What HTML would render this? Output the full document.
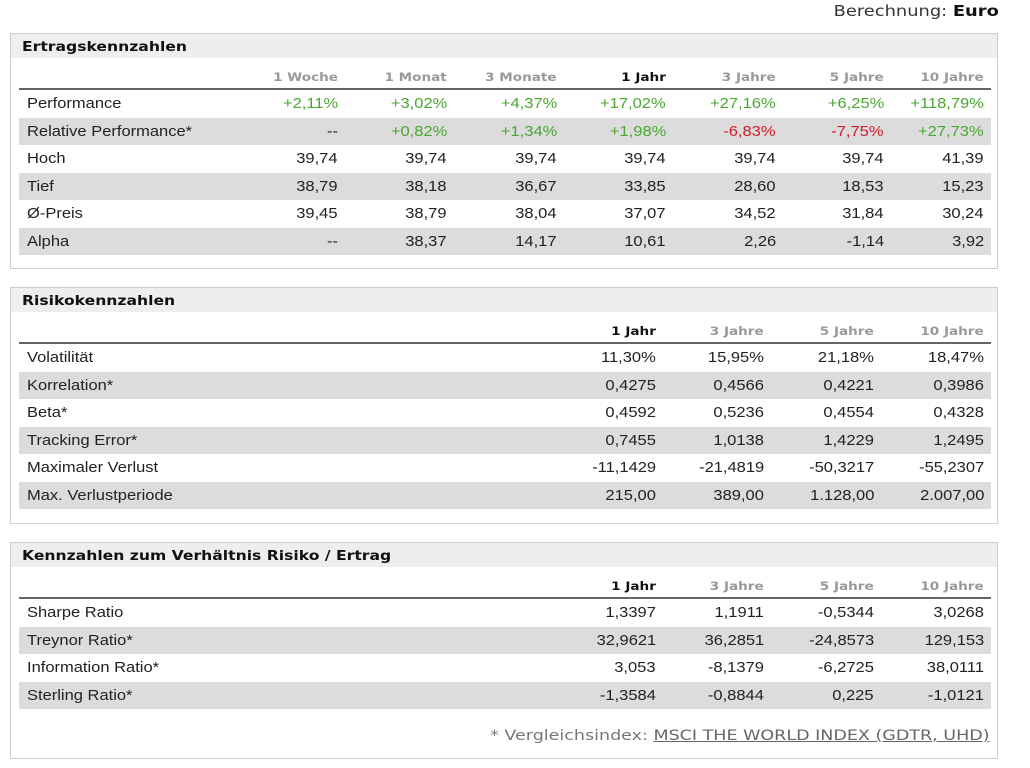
<!DOCTYPE html>
<html><head><meta charset="utf-8">
<style>
body{margin:0;width:1030px;height:768px;background:#fff;position:relative;overflow:hidden;font-family:"Liberation Sans",Arial,sans-serif;}
.calc{position:absolute;right:31px;top:2px;font-family:"DejaVu Sans",sans-serif;font-size:15px;color:#333;transform:scaleX(1.19);transform-origin:right center;}
.calc b{color:#111;}
.panel{position:absolute;left:10px;width:986px;border:1px solid #cfcfcf;background:#fff;}
.ttl{height:24px;background:#eeeeee;line-height:26px;padding-left:11px;}
.ttl span{display:inline-block;font-family:"DejaVu Sans",sans-serif;font-weight:bold;font-size:13px;color:#111;transform:scaleX(1.2);transform-origin:left center;}
.hdr{position:absolute;left:8px;width:972px;height:20px;border-bottom:2px solid #666;}
.hc{position:absolute;top:2px;font-family:"DejaVu Sans",sans-serif;font-weight:bold;font-size:11.5px;color:#999;text-align:right;transform:scaleX(1.18);transform-origin:right center;}
.hc.act{color:#111;}
.row{position:absolute;left:8px;width:972px;height:27.5px;}
.row.g{background:#dcdcdc;}
.lbl{position:absolute;left:8px;top:0;line-height:27.5px;font-size:15px;color:#222;transform:scaleX(1.1);transform-origin:left center;}
.v{position:absolute;top:0;line-height:27.5px;font-size:15px;color:#222;text-align:right;transform:scaleX(1.1);transform-origin:right center;}
.pos{color:#4aa832;}.neg{color:#d0202a;}
.foot{position:absolute;right:7px;font-family:"DejaVu Sans",sans-serif;font-size:14px;color:#777;transform:scaleX(1.25);transform-origin:right center;white-space:nowrap;}
.foot u{color:#666;}
</style></head><body>
<div class="calc">Berechnung: <b>Euro</b></div>

<div class="panel" id="p1" style="top:33px;height:234px;"><div class="ttl"><span>Ertragskennzahlen</span></div></div>
<div class="panel" id="p2" style="top:287px;height:235px;"><div class="ttl"><span>Risikokennzahlen</span></div></div>
<div class="panel" id="p3" style="top:542px;height:215px;"><div class="ttl"><span>Kennzahlen zum Verhältnis Risiko / Ertrag</span></div>
<div class="foot" style="top:185px;">* Vergleichsindex: <u>MSCI THE WORLD INDEX (GDTR, UHD)</u></div></div>

<script>
const cols1 = ["1 Woche","1 Monat","3 Monate","1 Jahr","3 Jahre","5 Jahre","10 Jahre"];
const labels1 = ["Performance","Relative Performance*","Hoch","Tief","Ø-Preis","Alpha"];
const values1 = [
 ["+2,11%","+3,02%","+4,37%","+17,02%","+27,16%","+6,25%","+118,79%"],
 ["--","+0,82%","+1,34%","+1,98%","-6,83%","-7,75%","+27,73%"],
 ["39,74","39,74","39,74","39,74","39,74","39,74","41,39"],
 ["38,79","38,18","36,67","33,85","28,60","18,53","15,23"],
 ["39,45","38,79","38,04","37,07","34,52","31,84","30,24"],
 ["--","38,37","14,17","10,61","2,26","-1,14","3,92"]];
const cols2 = ["1 Jahr","3 Jahre","5 Jahre","10 Jahre"];
const labels2 = ["Volatilität","Korrelation*","Beta*","Tracking Error*","Maximaler Verlust","Max. Verlustperiode"];
const values2 = [
 ["11,30%","15,95%","21,18%","18,47%"],
 ["0,4275","0,4566","0,4221","0,3986"],
 ["0,4592","0,5236","0,4554","0,4328"],
 ["0,7455","1,0138","1,4229","1,2495"],
 ["-11,1429","-21,4819","-50,3217","-55,2307"],
 ["215,00","389,00","1.128,00","2.007,00"]];
const labels3 = ["Sharpe Ratio","Treynor Ratio*","Information Ratio*","Sterling Ratio*"];
const values3 = [
 ["1,3397","1,1911","-0,5344","3,0268"],
 ["32,9621","36,2851","-24,8573","129,153"],
 ["3,053","-8,1379","-6,2725","38,0111"],
 ["-1,3584","-0,8844","0,225","-1,0121"]];

const right1 = [319,428,538,647,757,865,965];
const right2 = [637,745,855,965];

function build(panelId, cols, rights, labels, values, colored, prefix){
  const p = document.getElementById(panelId);
  const hdr = document.createElement('div');
  hdr.className = 'hdr';
  hdr.style.top = '34px';
  
  
  cols.forEach((c,i)=>{
    const h = document.createElement('div');
    h.className = 'hc' + (c === '1 Jahr' ? ' act' : '');
    h.textContent = c;
    h.style.right = (972 - rights[i]) + 'px';
    
    
    hdr.appendChild(h);
  });
  p.appendChild(hdr);
  labels.forEach((l,r)=>{
    const row = document.createElement('div');
    row.className = 'row' + (r % 2 ? ' g' : '');
    row.style.top = (56 + r*27.5) + 'px';
    
    
    const lb = document.createElement('div');
    lb.className = 'lbl';
    lb.textContent = l;
    
    
    row.appendChild(lb);
    values[r].forEach((v,i)=>{
      const c = document.createElement('div');
      let cls = 'v';
      if (colored && r < 2 && v !== '--') cls += v.charAt(0) === '-' ? ' neg' : ' pos';
      c.className = cls;
      c.textContent = v;
      c.style.right = (972 - rights[i]) + 'px';
      
      
      row.appendChild(c);
    });
    p.appendChild(row);
  });
}
build('p1', cols1, right1, labels1, values1, true, 'ertrag');
build('p2', cols2, right2, labels2, values2, false, 'risiko');
build('p3', cols2, right2, labels3, values3, false, 'verhaeltnis');
</script>
</body></html>
